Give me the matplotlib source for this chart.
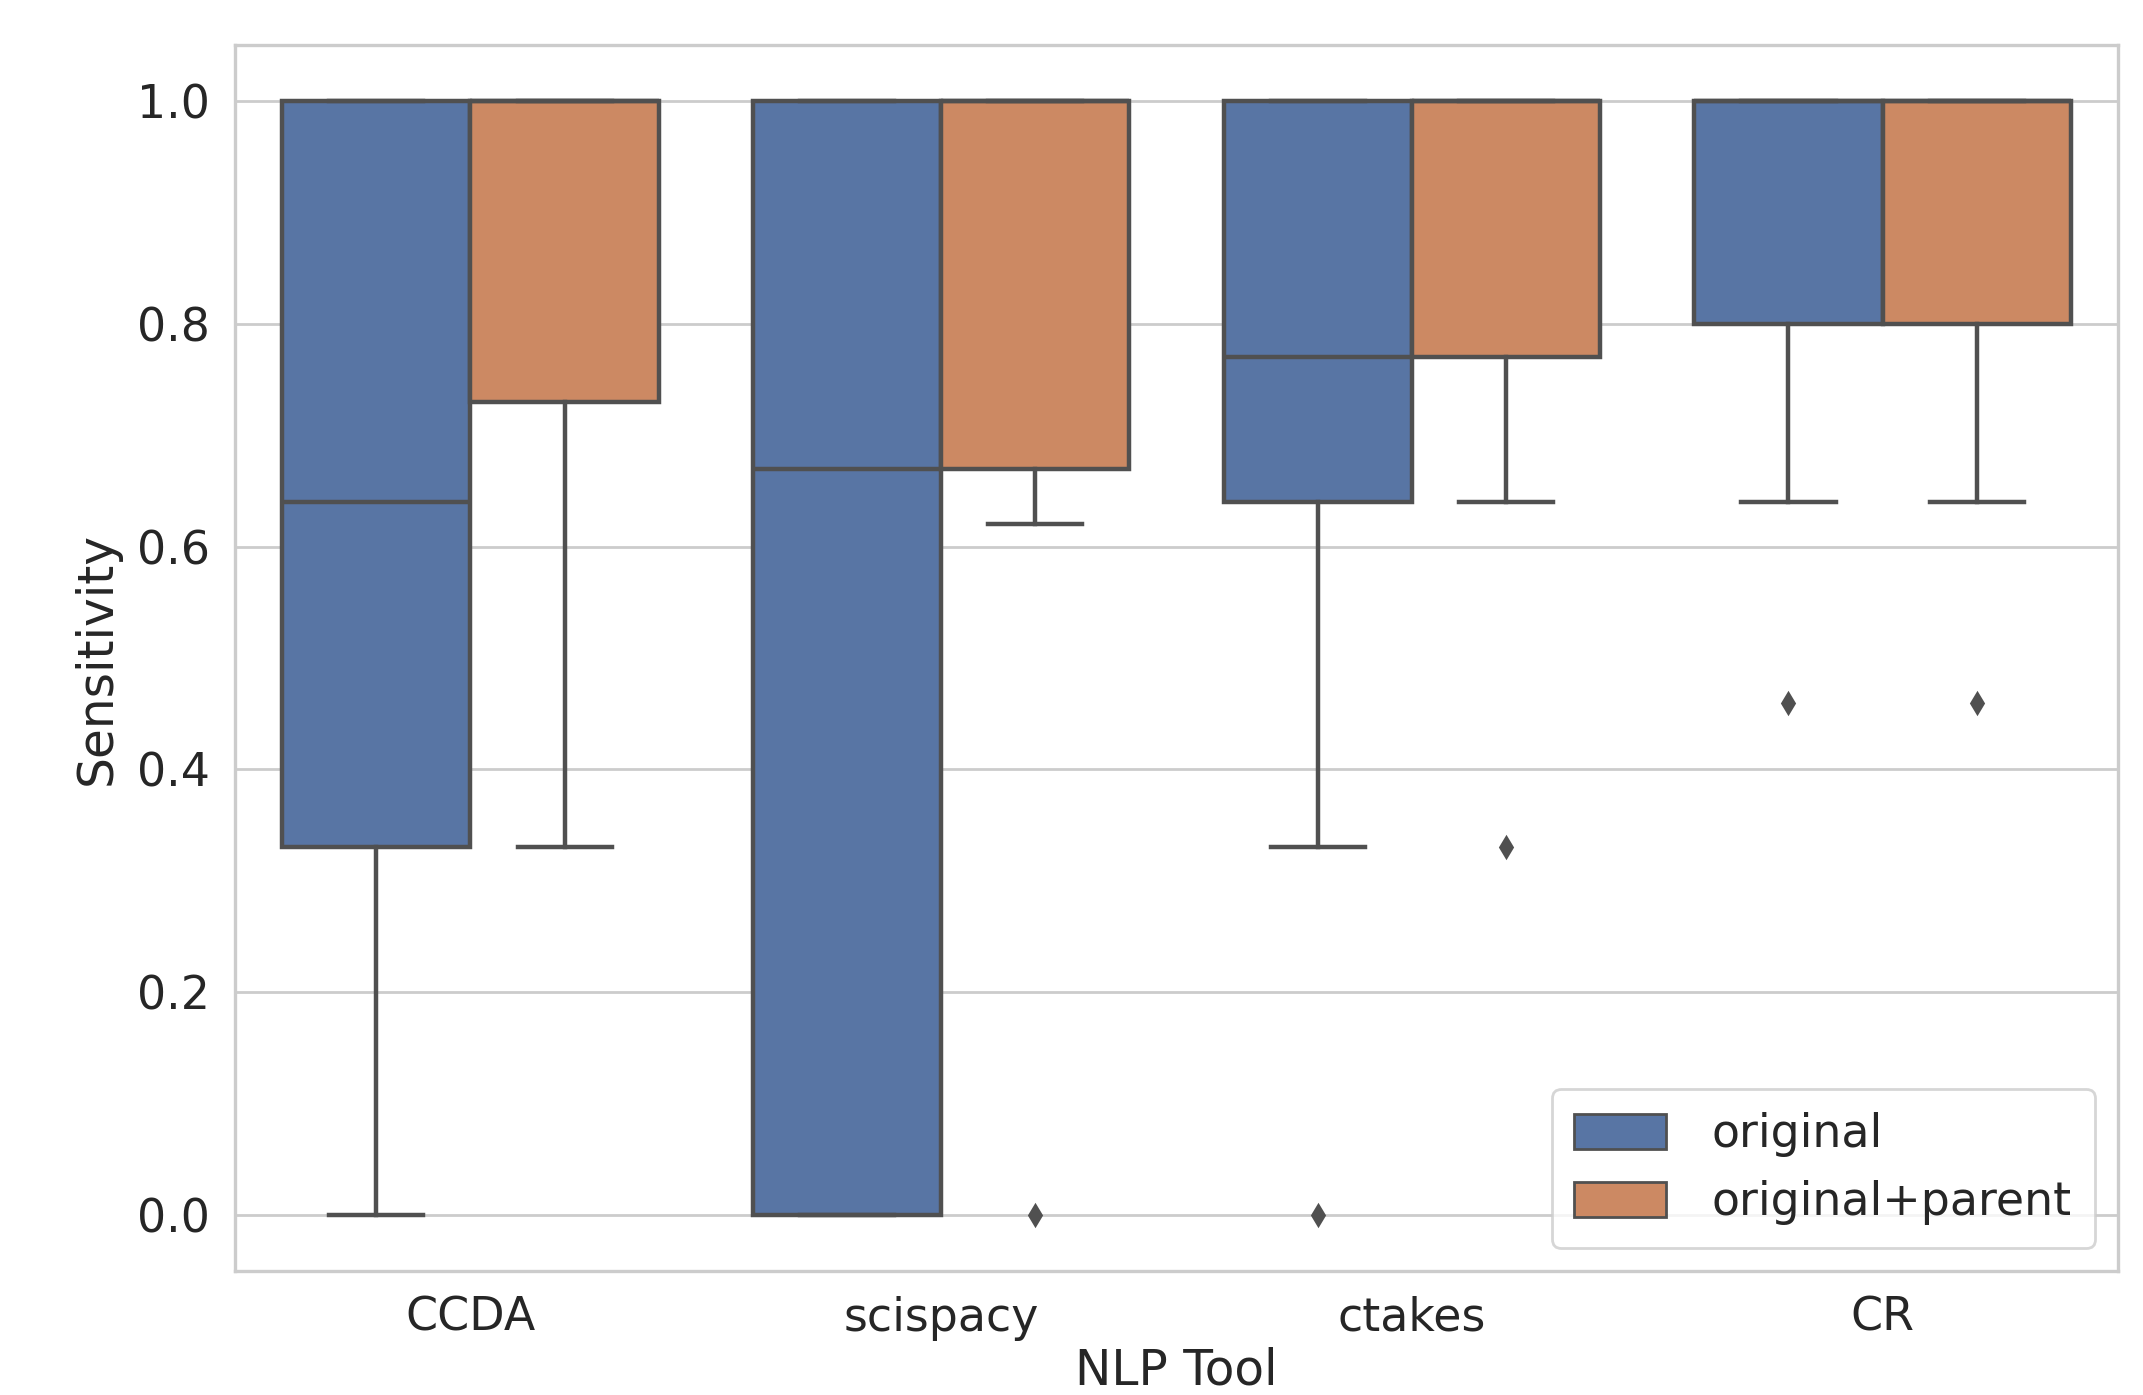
import matplotlib
matplotlib.use("Agg")
import matplotlib.pyplot as plt
from matplotlib.patches import Patch

tools = ["CCDA", "scispacy", "ctakes", "CR"]
groups = ["original", "original+parent"]

# box stats, per group, per tool
q1 = {"original": [0.33, 0.00, 0.64, 0.80],
      "original+parent": [0.73, 0.67, 0.77, 0.80]}
med = {"original": [0.64, 0.67, 0.77, 1.00],
       "original+parent": [1.00, 1.00, 1.00, 1.00]}
q3 = {"original": [1.00, 1.00, 1.00, 1.00],
      "original+parent": [1.00, 1.00, 1.00, 1.00]}
wlo = {"original": [0.00, 0.00, 0.33, 0.64],
       "original+parent": [0.33, 0.62, 0.64, 0.64]}
whi = {"original": [1.00, 1.00, 1.00, 1.00],
       "original+parent": [1.00, 1.00, 1.00, 1.00]}
outliers = {"original": [[], [], [0.0], [0.46]],
            "original+parent": [[], [0.0], [0.33], [0.46]]}

colors = {"original": "#5875a4", "original+parent": "#cc8963"}
offsets = {"original": -0.2, "original+parent": 0.2}
line_col = "#505050"
text_col = "#262626"

plt.rcParams["font.family"] = "DejaVu Sans"
fig = plt.figure(figsize=(10.715, 6.975), dpi=200)
ax = fig.add_axes([0.1097, 0.0889, 0.8786, 0.8788])

for g in groups:
    stats = []
    for i in range(len(tools)):
        stats.append({"q1": q1[g][i], "med": med[g][i], "q3": q3[g][i],
                      "whislo": wlo[g][i], "whishi": whi[g][i],
                      "fliers": outliers[g][i]})
    pos = [i + offsets[g] for i in range(len(tools))]
    ax.bxp(stats, positions=pos, widths=0.4, showfliers=True, patch_artist=True,
           boxprops=dict(facecolor=colors[g], edgecolor=line_col, linewidth=1.6),
           medianprops=dict(color=line_col, linewidth=1.6),
           whiskerprops=dict(color=line_col, linewidth=1.6),
           capprops=dict(color=line_col, linewidth=1.6),
           flierprops=dict(marker="d", markerfacecolor=line_col,
                           markeredgecolor=line_col, markersize=5),
           zorder=3)

ax.set_xlim(-0.5, len(tools) - 0.5)
ax.set_ylim(-0.05, 1.05)
ax.set_xticks(range(len(tools)))
ax.set_xticklabels(tools)
ax.set_yticks([0.0, 0.2, 0.4, 0.6, 0.8, 1.0])
ax.set_yticklabels(["0.0", "0.2", "0.4", "0.6", "0.8", "1.0"])
ax.tick_params(length=0, labelsize=16.5, colors=text_col, pad=9)
ax.set_xlabel("NLP Tool", fontsize=17.5, color=text_col, labelpad=2)
ax.set_ylabel("Sensitivity", fontsize=17.5, color=text_col, labelpad=6)
ax.yaxis.grid(True, color="#cccccc", linewidth=1)
ax.set_axisbelow(True)
for s in ax.spines.values():
    s.set_color("#cccccc")
    s.set_linewidth(1.2)

handles = [Patch(facecolor=colors[g], edgecolor=line_col, label=g) for g in groups]
leg = ax.legend(handles=handles, loc="lower right", fontsize=16.5,
                handlelength=2.0, handleheight=0.8, borderpad=0.5,
                labelspacing=0.5, handletextpad=1.0)
for t in leg.get_texts():
    t.set_color(text_col)
leg.get_frame().set_edgecolor("#cccccc")

fig.savefig("out.png", dpi=200)
